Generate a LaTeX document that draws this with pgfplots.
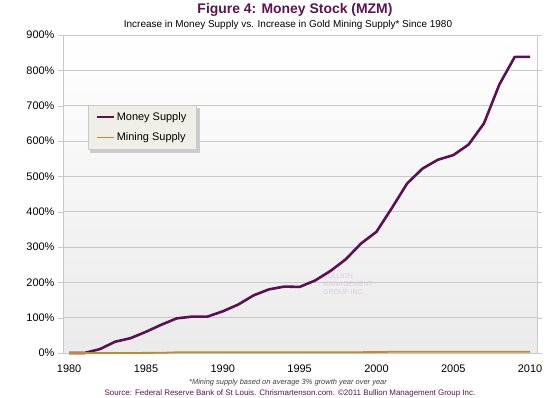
\documentclass[border=0pt]{standalone}
\usepackage{pgfplots}
\pgfplotsset{compat=1.18}
\usepackage{fontspec}
\setmainfont{Liberation Sans}
\definecolor{money}{HTML}{5C0F52}
\definecolor{mining}{HTML}{C48A2C}
\definecolor{titlec}{HTML}{5A1450}
\definecolor{gridc}{HTML}{C9C9C9}
\definecolor{legfill}{HTML}{EFEEE7}

\pgfplotstableread{
year value
1980 0
1981 0
1982 11
1983 32
1984 42
1985 60
1986 80
1987 98
1988 103
1989 103
1990 118
1991 137
1992 163
1993 180
1994 188
1995 187
1996 205
1997 232
1998 265
1999 310
2000 343
2001 410
2002 480
2003 522
2004 547
2005 560
2006 590
2007 650
2008 760
2009 838
2010 838
}\moneytable

\pgfplotstableread{
year value
1980 0
1983 0
1986 0.5
1987 2
1990 2
1995 2
2000 2.5
2001 3.5
2005 3.5
2010 3.5
}\miningtable

\begin{document}
\begin{tikzpicture}
\path[use as bounding box] (0,0) rectangle (550bp,398bp);
\begin{axis}[
  at={(63bp,45bp)}, anchor=south west,
  scale only axis,
  width=474bp, height=318bp,
  xmin=1979.6, xmax=2010.45,
  ymin=0, ymax=900,
  axis background/.style={shade, top color=white, bottom color=black!8},
  axis line style={gridc},
  xtick={1980,1985,...,2010},
  xticklabels={1980,1985,1990,1995,2000,2005,2010},
  ytick={0,100,...,900},
  yticklabels={0\%,100\%,200\%,300\%,400\%,500\%,600\%,700\%,800\%,900\%},
  x tick label style={font=\fontsize{11}{13}\selectfont, yshift=-3bp},
  y tick label style={font=\fontsize{11}{13}\selectfont},
  xtick style={draw=none},
  ytick style={draw=gridc},
  major tick length=5bp,
  tick align=outside,
  ymajorgrids,
  grid style={gridc, line width=0.8pt},
  legend style={at={(0.053,0.78)}, anchor=north west,
    fill=legfill, draw=gridc,
    font=\fontsize{11}{13}\selectfont, row sep=7bp, inner xsep=8bp, inner ysep=5bp,
    legend cell align=left},
  legend image code/.code={\draw[#1, line width=1.5pt] (0bp,0bp) -- (17bp,0bp);},
  clip=false,
]
% legend shadow (drawn behind legend)
\fill[black!20] (rel axis cs:0.058,0.628) rectangle (rel axis cs:0.289,0.772);
\node[text=titlec!22, font=\fontsize{7}{8}\selectfont, align=left, anchor=west] at (axis cs:1996.3,195) {BULLION\\MANAGEMENT\\GROUP INC.};
\addplot[money, line width=2.6pt, line join=round] table[x=year, y=value] {\moneytable};
\addplot[mining, line width=1.8pt] table[x=year, y=value] {\miningtable};
\legend{Money Supply, Mining Supply}
\end{axis}
\node[font=\bfseries\fontsize{14}{16}\selectfont, text=titlec] at (295bp,388bp) {Figure 4: Money Stock (MZM)};
\node[font=\fontsize{10}{12}\selectfont] at (288bp,373bp) {Increase in Money Supply vs. Increase in Gold Mining Supply* Since 1980};
\node[font=\itshape\fontsize{7.5}{9}\selectfont, text=black!75] at (288bp,15bp) {*Mining supply based on average 3\% growth year over year};
\node[font=\fontsize{8}{9}\selectfont, text=titlec] at (290bp,4.5bp) {Source: Federal Reserve Bank of St Louis. Chrismartenson.com. ©2011 Bullion Management Group Inc.};
\end{tikzpicture}
\end{document}
